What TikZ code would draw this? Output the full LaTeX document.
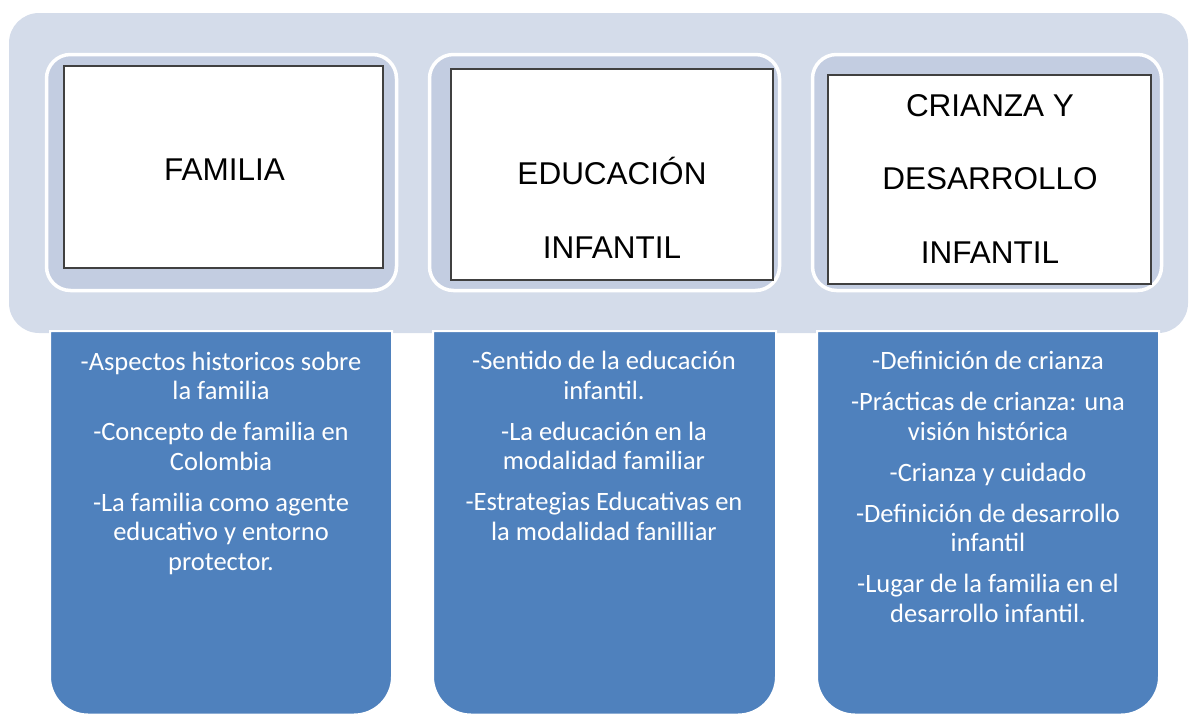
\documentclass[tikz,border=0pt]{standalone}
\usepackage{fontspec}
\setmainfont{Carlito}
\newfontfamily\headfont{Liberation Sans}
\usetikzlibrary{positioning}
\definecolor{bandpale}{HTML}{D4DCEA}
\definecolor{framefill}{HTML}{C3CDE1}
\definecolor{topicblue}{HTML}{4F81BD}

\begin{document}
\begin{tikzpicture}[x=1pt,y=-1pt,
  frame/.style={draw=white, line width=3.5pt, fill=framefill, rounded corners=24pt},
  titlebox/.style={draw=black!75, line width=1.3pt, fill=white},
  titletext/.style={font=\headfont\fontsize{31.5}{73.5}\selectfont, align=center, anchor=base, inner sep=0pt},
  topics/.style={font=\fontsize{26.5}{29.5}\selectfont, text=white, align=center, anchor=base, inner sep=0pt}]
  \useasboundingbox (0,0) rectangle (1189,713);
  % pale band behind the three titles
  \fill[bandpale, rounded corners=30pt] (9,13) rectangle (1188,333);
  % blue columns, rounded only at the bottom
  \foreach \xl/\xr in {50/392, 433/776, 817/1159}
    \filldraw[fill=topicblue, draw=white, line width=2pt]
      (\xl,331) [rounded corners=38pt] -- (\xl,714.5) -- (\xr,714.5) [sharp corners] -- (\xr,331) -- cycle;
  % title frames
  \draw[frame] (46.5,54.5) rectangle (396.5,290.5);
  \draw[frame] (429.5,54.5) rectangle (779.5,290.5);
  \draw[frame] (812.5,54.5) rectangle (1161.5,290.5);
  \draw[titlebox] (64,66) rectangle (383,268);
  \draw[titlebox] (451,69) rectangle (773,280);
  \draw[titlebox] (828,75) rectangle (1151,284);
  % titles (base = last line)
  \node[titletext] (familia) at (224.5,180) {FAMILIA};
  \node[titletext] (educacion) at (612,258) {EDUCACIÓN\\INFANTIL};
  \node[titletext] (crianza) at (990,263) {CRIANZA Y\\DESARROLLO\\INFANTIL};
  % topics (base = last line)
  \node[topics] (temasfam) at (221,570) {-Aspectos historicos sobre\\la familia\\[11.5pt]
    -Concepto de familia en\\Colombia\\[11.5pt]
    -La familia como agente\\educativo y entorno\\protector.};
  \node[topics] (temasedu) at (604,540) {-Sentido de la educación\\infantil.\\[11.5pt]
    -La educación en la\\modalidad familiar\\[11.5pt]
    -Estrategias Educativas en\\la modalidad fanilliar};
  \node[topics] (temascri) at (988,622) {-Definición de crianza\\[11.5pt]
    -Prácticas de crianza: una\\visión histórica\\[11.5pt]
    -Crianza y cuidado\\[11.5pt]
    -Definición de desarrollo\\infantil\\[11.5pt]
    -Lugar de la familia en el\\desarrollo infantil.};
\end{tikzpicture}
\end{document}
